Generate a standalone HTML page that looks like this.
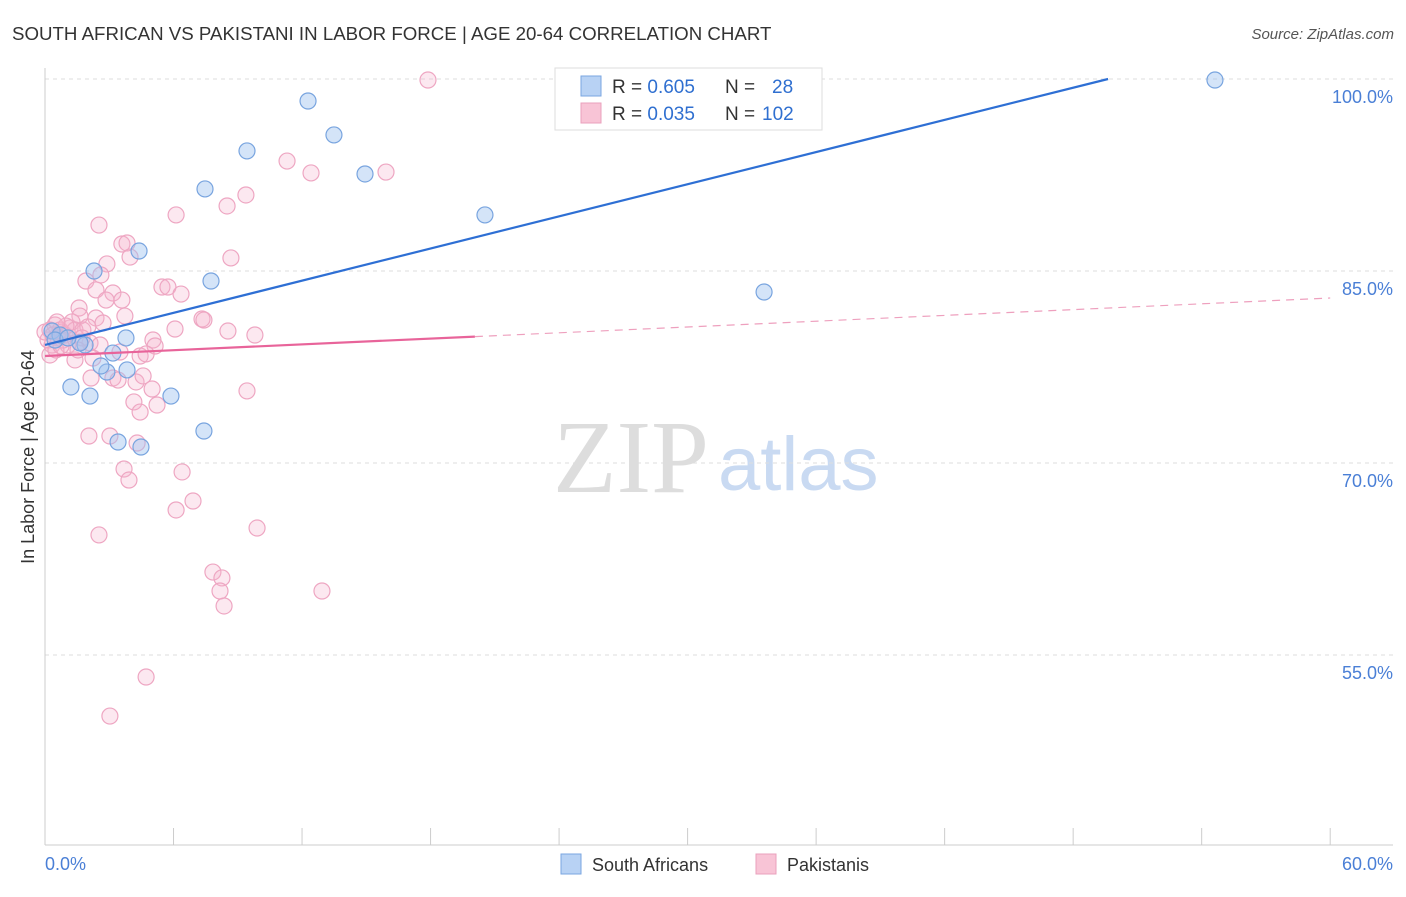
<!DOCTYPE html>
<html><head><meta charset="utf-8"><style>
body{margin:0;background:#fff;font-family:"Liberation Sans",sans-serif;}
</style></head><body>
<svg width="1406" height="892" xmlns="http://www.w3.org/2000/svg">
<text x="12" y="40" font-size="18.7" fill="#333">SOUTH AFRICAN VS PAKISTANI IN LABOR FORCE | AGE 20-64 CORRELATION CHART</text>
<text x="1394" y="39" font-size="15" fill="#555" font-style="italic" text-anchor="end">Source: ZipAtlas.com</text>
<g>
<text x="553" y="492" font-size="104" fill="#ddd" font-family="Liberation Serif,serif">ZIP</text>
<text x="718" y="490" font-size="76" fill="#c9daf2">atlas</text>
</g>
<g id="grid"></g>
<g id="axes"></g>
<text transform="translate(34,457) rotate(-90)" font-size="18" fill="#333" text-anchor="middle">In Labor Force | Age 20-64</text>
<text x="45" y="870" font-size="18" fill="#4a7fd6">0.0%</text>
<text x="1393" y="870" font-size="18" fill="#4a7fd6" text-anchor="end">60.0%</text>
<g id="pts"></g>
<g id="lines"></g>
<g>
<rect x="555" y="68" width="267" height="62" fill="#fff" stroke="#ddd"/>
<rect x="581" y="76" width="20" height="20" fill="#b8d2f4" stroke="#7aa6e0"/>
<rect x="581" y="103" width="20" height="20" fill="#f8c4d6" stroke="#eaa0bc"/>
<text x="612" y="93" font-size="19" fill="#333">R = <tspan fill="#2f6fd0">0.605</tspan><tspan x="725">N = </tspan><tspan x="772" fill="#2f6fd0">28</tspan></text>
<text x="612" y="120" font-size="19" fill="#333">R = <tspan fill="#2f6fd0">0.035</tspan><tspan x="725">N = </tspan><tspan x="762" fill="#2f6fd0">102</tspan></text>
</g>
<g>
<rect x="561" y="854" width="20" height="20" fill="#b8d2f4" stroke="#7aa6e0"/>
<text x="592" y="871" font-size="18" fill="#333">South Africans</text>
<rect x="756" y="854" width="20" height="20" fill="#f8c4d6" stroke="#eaa0bc"/>
<text x="787" y="871" font-size="18" fill="#333">Pakistanis</text>
</g>
</svg>
<script>
const yTicks=[100,85,70,55];
const yTickLabels=["100.0%","85.0%","70.0%","55.0%"];
const xTicks=[0,6,12,18,24,30,36,42,48,54,60];
const blueX=[2.29,4.39,1.21,2.10,3.41,4.48,2.89,3.83,3.78,3.17,1.87,0.33,0.70,5.88,7.42,7.47,7.75,9.43,12.28,13.49,14.94,20.54,33.57,54.62,1.63,0.47,1.07,2.61];
const blueY=[85.0,86.56,75.94,75.23,71.64,71.25,77.11,77.27,79.77,78.59,79.22,80.31,80.0,75.23,72.5,91.41,84.22,94.38,98.28,95.63,92.58,89.38,83.36,99.92,79.38,79.61,79.77,77.58];
const pinkX=[17.88,11.30,12.42,15.92,9.38,8.50,6.12,2.52,3.59,3.83,3.97,2.89,8.68,1.91,2.61,2.38,3.17,2.85,3.59,5.46,5.74,6.35,1.59,1.63,2.38,2.71,3.73,7.33,7.42,6.07,8.54,9.80,5.04,5.14,2.10,2.57,1.63,4.44,4.72,2.24,3.50,1.40,2.15,3.17,3.41,4.25,4.58,5.0,4.15,4.44,5.23,9.43,2.05,3.03,4.30,3.69,3.92,6.40,6.91,6.12,9.90,2.52,7.84,8.26,8.17,8.36,12.93,4.72,3.03,0.23,0.47,0.70,0.93,1.17,0.14,0.33,0.61,0.79,1.07,1.26,1.40,0.23,0.51,0.0,0.98,1.77,2.0,1.73,1.54,0.84,0.56,0.37,0.75];
const pinkY=[99.92,93.59,92.66,92.73,90.94,90.08,89.38,88.59,87.11,87.19,86.09,85.55,86.02,84.22,84.69,83.52,83.28,82.73,82.73,83.75,83.75,83.20,82.11,81.48,81.33,80.94,81.48,81.25,81.17,80.47,80.31,80.0,79.61,79.14,79.38,79.22,79.45,78.36,78.52,78.20,78.67,78.05,76.64,76.64,76.48,76.33,76.80,75.78,74.77,73.98,74.53,75.63,72.11,72.11,71.56,69.53,68.67,69.30,67.03,66.33,64.92,64.38,61.48,61.02,60.0,58.83,60.0,53.28,50.23,80.39,80.78,80.39,80.0,80.55,79.61,79.22,79.77,80.23,79.22,81.02,80.39,78.44,78.83,80.23,80.70,80.39,80.63,79.77,78.83,79.61,81.02,80.0,79.14];
const blueLine=[79.22,100,49.63];
const pinkLine=[78.36,82.89,20.07];
const NS="http://www.w3.org/2000/svg";
const sx=v=>45+v*21.42, sy=v=>79+(100-v)*12.8;
function mk(t,a,p){const e=document.createElementNS(NS,t);for(const k in a)e.setAttribute(k,a[k]);p.appendChild(e);return e;}
const grid=document.getElementById('grid'),axes=document.getElementById('axes'),pts=document.getElementById('pts'),lines=document.getElementById('lines');
yTicks.forEach((v,i)=>{
 const l=mk('line',{x1:45,x2:1393,y1:sy(v),y2:sy(v),stroke:'#ddd','stroke-dasharray':'4,4'},grid);
 
 
 const t=mk('text',{x:1393,y:sy(v)+24,'font-size':18,fill:'#4a7fd6','text-anchor':'end'},grid);
 t.textContent=yTickLabels[i];
 
 
});
const ax=mk('line',{x1:45,x2:45,y1:68,y2:845,stroke:'#ccc'},axes);


const bx=mk('line',{x1:45,x2:1393,y1:845,y2:845,stroke:'#ccc'},axes);


xTicks.forEach(v=>{
 const t=mk('line',{x1:sx(v),x2:sx(v),y1:828,y2:845,stroke:'#ccc'},axes);
 
 
});
pinkX.forEach((x,i)=>{
 const c=mk('circle',{cx:sx(x),cy:sy(pinkY[i]),r:8,fill:'rgba(246,178,204,0.3)',stroke:'#eea6c2','stroke-width':1.2},pts);
 
 
});
blueX.forEach((x,i)=>{
 const c=mk('circle',{cx:sx(x),cy:sy(blueY[i]),r:8,fill:'rgba(160,196,240,0.45)',stroke:'#78a4df','stroke-width':1.2},pts);
 
 
});
const bl=mk('line',{x1:sx(0),y1:sy(blueLine[0]),x2:sx(blueLine[2]),y2:sy(blueLine[1]),stroke:'#2e6fd4','stroke-width':2.2},lines);


const pY=x=>pinkLine[0]+(pinkLine[1]-pinkLine[0])*x/60;
const pl=mk('line',{x1:sx(0),y1:sy(pY(0)),x2:sx(pinkLine[2]),y2:sy(pY(pinkLine[2])),stroke:'#e8649a','stroke-width':2.2},lines);


const pd=mk('line',{x1:sx(pinkLine[2]),y1:sy(pY(pinkLine[2])),x2:sx(60),y2:sy(pY(60)),stroke:'#eea0be','stroke-width':1.2,'stroke-dasharray':'8,6'},lines);


</script>
</body></html>
